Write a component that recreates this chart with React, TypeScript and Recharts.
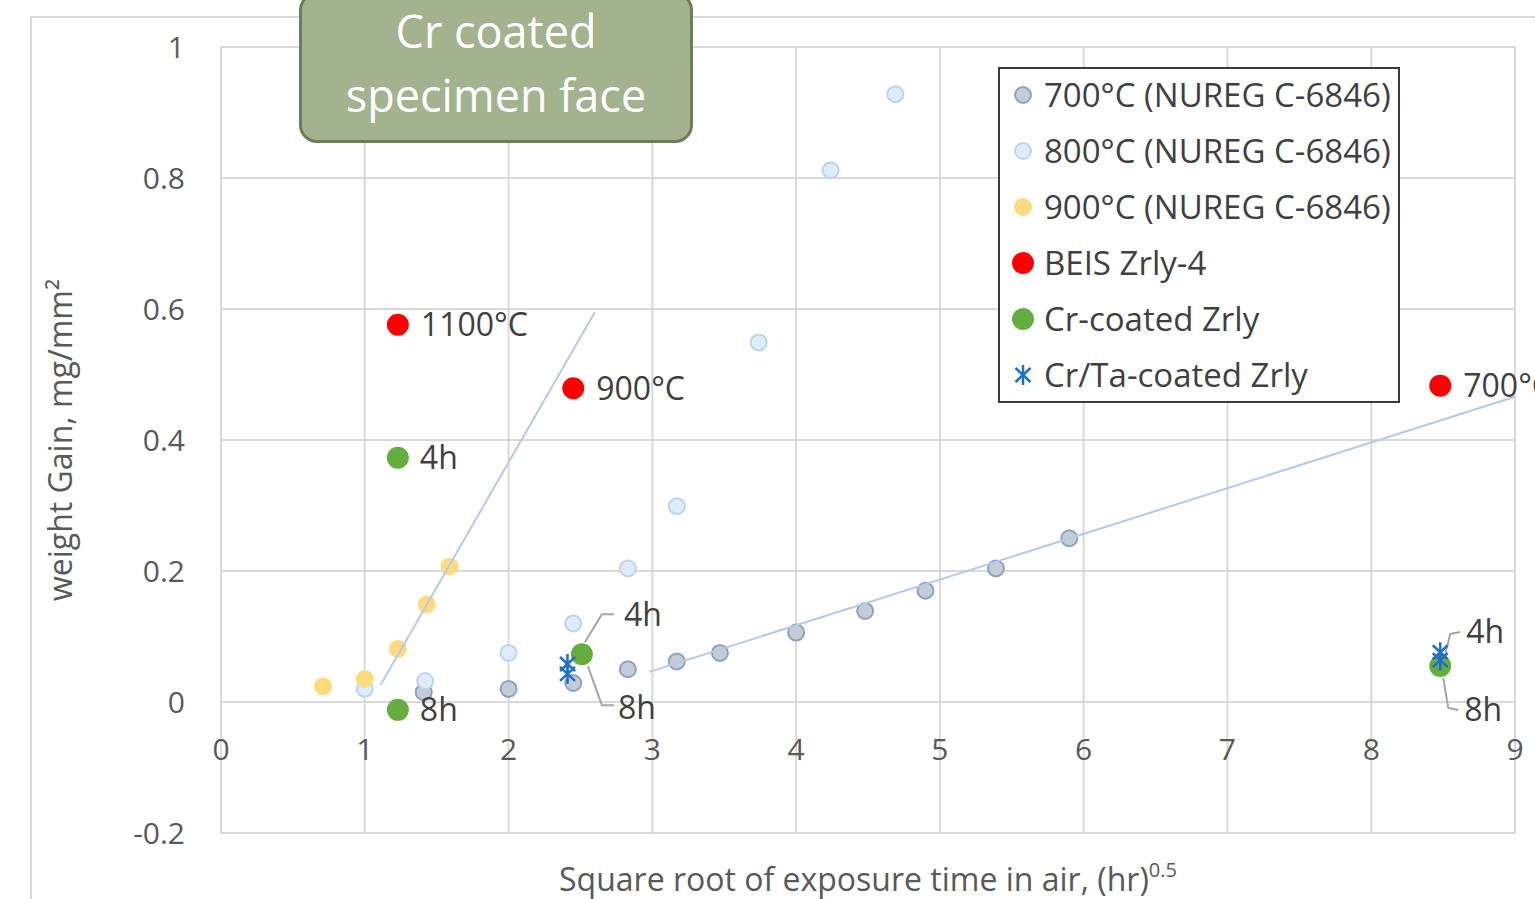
import React from 'react';
import { ScatterChart, Scatter, XAxis, YAxis, CartesianGrid, Legend } from 'recharts';

// values
const nureg700X = [1.41, 2.0, 2.45, 2.83, 3.17, 3.47, 4.0, 4.48, 4.9, 5.39, 5.9];
const nureg700Y = [0.015, 0.02, 0.029, 0.05, 0.062, 0.075, 0.106, 0.139, 0.17, 0.204, 0.25];
const nureg800X = [1.0, 1.42, 2.0, 2.45, 2.83, 3.17, 3.74, 4.24, 4.69];
const nureg800Y = [0.02, 0.032, 0.075, 0.12, 0.204, 0.299, 0.549, 0.812, 0.928];
const nureg900X = [0.71, 1.0, 1.23, 1.43, 1.59];
const nureg900Y = [0.024, 0.035, 0.081, 0.149, 0.207];
const beisX = [1.23, 2.45, 8.48];
const beisY = [0.576, 0.479, 0.483];
const beisLabels = ['1100°C', '900°C', '700°C'];
const crX = [1.23, 1.23, 2.51, 8.48];
const crY = [0.373, -0.012, 0.073, 0.055];
const crLabels = [['4h'], ['8h'], ['4h', '8h'], ['4h', '8h']];
const crTaX = [2.41, 2.41, 8.48, 8.48];
const crTaY = [0.058, 0.043, 0.076, 0.064];
// trend line end points
const trend900X = [1.11, 2.6];
const trend900Y = [0.026, 0.595];
const trend700X = [2.98, 9.0];
const trend700Y = [0.046, 0.466];

const xTicks = [0, 1, 2, 3, 4, 5, 6, 7, 8, 9];
const yTicks = [-0.2, 0, 0.2, 0.4, 0.6, 0.8, 1];

const zip = (xs: number[], ys: number[], extra?: any[]) =>
  xs.map((x, i) => ({ x, y: ys[i], tag: extra ? extra[i] : undefined }));

const FONT = '"Open Sans", sans-serif';
const TEXT = '#404040';
const W = 1535;
const H = 899;
const PLOT_TOP = 47;
const PLOT_BOTTOM = 833;
const Y_MIN = -0.2;
const Y_MAX = 1;
const zeroY = PLOT_TOP + ((PLOT_BOTTOM - PLOT_TOP) * Y_MAX) / (Y_MAX - Y_MIN);

const series = [
  { name: '700°C (NUREG C-6846)', fill: '#c4ccd8', stroke: '#8ea3be', kind: 'circle' },
  { name: '800°C (NUREG C-6846)', fill: '#deebf8', stroke: '#bcd4ef', kind: 'circle' },
  { name: '900°C (NUREG C-6846)', fill: '#fddc80', stroke: '#fddc80', kind: 'circle' },
  { name: 'BEIS Zrly-4', fill: '#ff0000', stroke: '#ff0000', kind: 'dot' },
  { name: 'Cr-coated Zrly', fill: '#66ad3f', stroke: '#66ad3f', kind: 'dot' },
  { name: 'Cr/Ta-coated Zrly', fill: '#1f6fc4', stroke: '#1f6fc4', kind: 'star' },
];

// leader/label placement for the callout labels (offsets from the point)
const calloutUp = [
  { lead: [3, -12, 20, -40, 32, -40], tx: 42, ty: -40 },
  { lead: [5, -12, 10, -32, 20, -34], tx: 26, ty: -34 },
];
const calloutDown = [
  { lead: [6, 12, 20, 51, 32, 51], tx: 36, ty: 53 },
  { lead: [3, 12, 8, 42, 18, 44], tx: 24, ty: 44 },
];

const Asterisk = ({ cx, cy, r, color }: any) => (
  <g stroke={color} strokeWidth={2.5}>
    <line x1={cx} y1={cy - r} x2={cx} y2={cy + r} />
    <line x1={cx - r * 0.75} y1={cy - r * 0.7} x2={cx + r * 0.75} y2={cy + r * 0.7} />
    <line x1={cx - r * 0.75} y1={cy + r * 0.7} x2={cx + r * 0.75} y2={cy - r * 0.7} />
  </g>
);

const ringShape = (s: any) => (props: any) => (
  <circle cx={props.cx} cy={props.cy} r={8} fill={s.fill} stroke={s.stroke} strokeWidth={2} />
);

const BeisShape = (props: any) => {
  const { cx, cy, payload } = props;
  return (
    <g>
      <circle cx={cx} cy={cy} r={11} fill={series[3].fill} />
      <text x={cx + 23} y={cy} dy="0.36em" fontSize={32} fill={TEXT} fontFamily={FONT}>
        {payload.tag}
      </text>
    </g>
  );
};

const CrShape = (props: any) => {
  const { cx, cy, payload } = props;
  const tags: string[] = payload.tag || [];
  const out: any[] = [<circle key="c" cx={cx} cy={cy} r={11} fill={series[4].fill} />];
  if (tags.length === 1) {
    out.push(
      <text key="t" x={cx + 22} y={cy} dy="0.36em" fontSize={32} fill={TEXT} fontFamily={FONT}>
        {tags[0]}
      </text>
    );
  } else if (tags.length === 2) {
    const k = payload.x > 5 ? 1 : 0;
    [calloutUp[k], calloutDown[k]].forEach((c, i) => {
      const l = c.lead;
      out.push(
        <polyline
          key={'l' + i}
          points={`${cx + l[0]},${cy + l[1]} ${cx + l[2]},${cy + l[3]} ${cx + l[4]},${cy + l[5]}`}
          fill="none"
          stroke="#a6a6a6"
          strokeWidth={2}
        />,
        <text key={'t' + i} x={cx + c.tx} y={cy + c.ty} dy="0.36em" fontSize={32} fill={TEXT} fontFamily={FONT}>
          {tags[i]}
        </text>
      );
    });
  }
  return <g>{out}</g>;
};

const StarShape = (props: any) => <Asterisk cx={props.cx} cy={props.cy} r={10} color={series[5].fill} />;

const XTick = ({ x, payload }: any) => (
  <text x={x} y={zeroY + 47} dy="0.36em" textAnchor="middle" fontSize={30} fill="#595959" fontFamily={FONT}>
    {payload.value}
  </text>
);

const XTitle = (props: any) => {
  const vb = props.viewBox || {};
  return (
    <text x={vb.x + vb.width / 2} y={879} dy="0.36em" textAnchor="middle" fontSize={32} fill="#595959" fontFamily={FONT}>
      Square root of exposure time in air, (hr)
      <tspan fontSize={20} dy="-0.7em">0.5</tspan>
    </text>
  );
};

const YTitle = () => (
  <text x={60} y={440} transform="rotate(-90 60 440)" textAnchor="middle" dy="0.36em" fontSize={32} fill="#595959" fontFamily={FONT}>
    weight Gain, mg/mm²
  </text>
);

const LegendBox = () => (
  <div
    style={{
      width: 398,
      height: 332,
      border: '2px solid #3a3a3a',
      background: '#fff',
      boxSizing: 'content-box',
      fontFamily: FONT,
    }}
  >
    {series.map((s, i) => (
      <div key={s.name} style={{ position: 'absolute', left: 0, top: 28 + i * 56 - 20, height: 40, display: 'flex', alignItems: 'center' }}>
        <svg width={46} height={40} style={{ display: 'block' }}>
          {s.kind === 'star' ? (
            <Asterisk cx={25} cy={20} r={10} color={s.fill} />
          ) : (
            <circle cx={25} cy={20} r={s.kind === 'dot' ? 10 : 8} fill={s.fill} stroke={s.stroke} strokeWidth={2} />
          )}
        </svg>
        <span style={{ fontSize: 33, color: TEXT, whiteSpace: 'nowrap', lineHeight: '40px' }}>{s.name}</span>
      </div>
    ))}
  </div>
);

export default function App() {
  return (
    <div style={{ position: 'absolute', left: 0, top: 0, width: W, height: H, overflow: 'hidden', background: '#fff' }}>
      <div style={{ position: 'absolute', left: 30, top: 16, width: 1700, height: 1100, border: '2px solid #d9d9d9' }} />
      <div style={{ position: 'absolute', left: 0, top: 0 }}>
        <ScatterChart width={W} height={H} margin={{ top: PLOT_TOP, right: 20, bottom: 0, left: 0 }}>
          <CartesianGrid stroke="#d9d9d9" strokeWidth={2} />
          <XAxis
            type="number"
            dataKey="x"
            domain={[0, 9]}
            ticks={xTicks}
            axisLine={false}
            tickLine={false}
            height={H - PLOT_BOTTOM}
            tick={<XTick />}
            label={<XTitle />}
            interval={0}
          />
          <YAxis
            type="number"
            dataKey="y"
            domain={[Y_MIN, Y_MAX]}
            ticks={yTicks}
            width={221}
            axisLine={false}
            tickLine={false}
            tickSize={0}
            tickMargin={36}
            interval={0}
            tickFormatter={(v: number) => String(Math.round(v * 10) / 10)}
            tick={{ fontSize: 30, fill: '#595959', fontFamily: FONT }}
            label={<YTitle />}
          />
          <Legend
            layout="vertical"
            align="center"
            verticalAlign="middle"
            content={<LegendBox />}
            wrapperStyle={{ position: 'absolute', left: 998, top: 67, width: 402 }}
          />
          <Scatter name={series[0].name} data={zip(nureg700X, nureg700Y)} shape={ringShape(series[0])} isAnimationActive={false} />
          <Scatter name={series[1].name} data={zip(nureg800X, nureg800Y)} shape={ringShape(series[1])} isAnimationActive={false} />
          <Scatter name={series[2].name} data={zip(nureg900X, nureg900Y)} shape={ringShape(series[2])} isAnimationActive={false} />
          <Scatter
            name="trend900"
            data={zip(trend900X, trend900Y)}
            line={{ stroke: '#b4cae6', strokeWidth: 2 }}
            shape={() => <g />}
            legendType="none"
            isAnimationActive={false}
          />
          <Scatter
            name="trend700"
            data={zip(trend700X, trend700Y)}
            line={{ stroke: '#b4cae6', strokeWidth: 2 }}
            shape={() => <g />}
            legendType="none"
            isAnimationActive={false}
          />
          <Scatter name={series[3].name} data={zip(beisX, beisY, beisLabels)} shape={BeisShape} isAnimationActive={false} />
          <Scatter name={series[4].name} data={zip(crX, crY, crLabels)} shape={CrShape} isAnimationActive={false} />
          <Scatter name={series[5].name} data={zip(crTaX, crTaY)} shape={StarShape} isAnimationActive={false} />
        </ScatterChart>
      </div>
      <div
        style={{
          position: 'absolute',
          left: 299,
          top: -8,
          width: 394,
          height: 151,
          background: '#a3b38f',
          border: '3px solid #6d7d5b',
          borderRadius: 18,
          color: '#fff',
          fontFamily: FONT,
          fontSize: 45,
          lineHeight: '64px',
          textAlign: 'center',
          paddingTop: 4,
          boxSizing: 'border-box',
        }}
      >
        Cr coated
        <br />
        specimen face
      </div>
    </div>
  );
}
